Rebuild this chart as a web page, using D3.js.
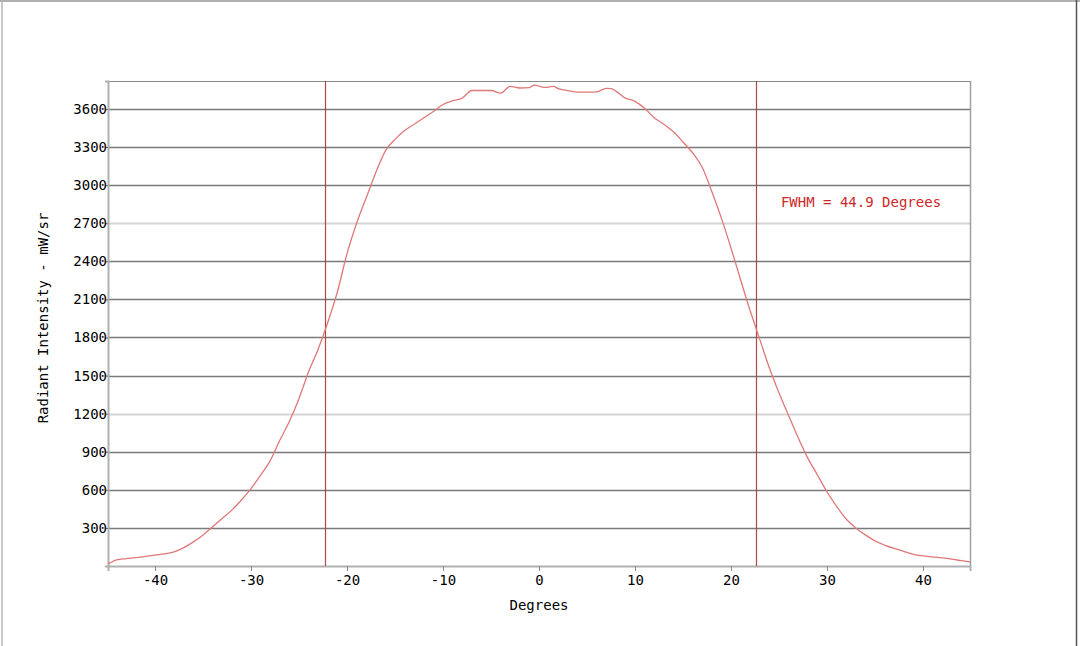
<!DOCTYPE html>
<html><head><meta charset="utf-8">
<script src="https://cdn.jsdelivr.net/npm/d3@7"></script>
<style>html,body{margin:0;padding:0;background:#fff;}svg{display:block;}</style>
</head><body>
<script>
const degrees = [-44.9,-44,-43,-42,-41,-40,-39,-38,-37,-36,-35,-34,-33,-32,-31,-30,-29,-28,-27,-26,-25,-24,-23,-22,-21,-20,-19,-18,-17,-16,-15,-14,-13,-12,-11,-10,-9,-8,-7,-6,-5,-4,-3,-2,-1,-0.5,0,0.5,1,1.5,2,3,4,5,6,7,7.5,8,9,10,11,12,13,14,15,16,17,18,19,20,21,22,23,24,25,26,27,28,29,30,31,32,33,34,35,36,37,38,39,40,41,42,43,44,44.9];
const intensity = [15,48,58,66,76,86,95,112,145,190,245,310,375,440,520,610,715,830,990,1140,1320,1530,1710,1920,2160,2460,2700,2900,3100,3270,3360,3430,3480,3530,3580,3635,3665,3685,3745,3745,3745,3725,3778,3765,3768,3788,3780,3770,3772,3778,3760,3745,3733,3733,3735,3762,3760,3740,3685,3660,3605,3530,3480,3420,3340,3255,3140,2950,2740,2505,2255,2010,1785,1560,1365,1185,1010,850,718,585,470,370,300,245,198,165,138,115,92,80,72,64,54,42,32];
const yTicks = [300,600,900,1200,1500,1800,2100,2400,2700,3000,3300,3600];
const xTicks = [-40,-30,-20,-10,0,10,20,30,40];
const fwhmLines = [-22.3, 22.6];
const fwhmLabel = "FWHM = 44.9 Degrees";
const xTitle = "Degrees";
const yTitle = "Radiant Intensity - mW/sr";

const W = 1080, H = 646;
const pL = 108, pR = 970, pT = 81, pB = 566;
const svg = d3.select("body").append("svg").attr("width", W).attr("height", H);
const font = "'DejaVu Sans Mono', monospace";

// outer frame
svg.append("line").attr("x1",2).attr("x2",2).attr("y1",0).attr("y2",H).attr("stroke","#c8c8c8").attr("stroke-width",2);
svg.append("line").attr("x1",0).attr("x2",W).attr("y1",1).attr("y2",1).attr("stroke","#b0b0b0").attr("stroke-width",2);
svg.append("line").attr("x1",1076.5).attr("x2",1076.5).attr("y1",0).attr("y2",H).attr("stroke","#555").attr("stroke-width",1.5);

const x = d3.scaleLinear().domain([-44.9, 44.9]).range([pL, pR]);
const y = d3.scaleLinear().domain([0, 3820]).range([pB, pT]);

// gridlines
svg.append("g").selectAll("line").data(yTicks).join("line")
  .attr("x1", pL).attr("x2", pR)
  .attr("y1", d => Math.round(y(d)) + 0.5).attr("y2", d => Math.round(y(d)) + 0.5)
  .attr("stroke", d => (d === 2700 || d === 1200) ? "#d4d4d4" : "#7a7a7a")
  .attr("stroke-width", d => (d === 2700 || d === 1200) ? 2 : 1.3);

// plot border top/right
svg.append("line").attr("x1",pL).attr("x2",pR).attr("y1",pT+0.5).attr("y2",pT+0.5).attr("stroke","#8a8a8a");
svg.append("line").attr("x1",pR+0.5).attr("x2",pR+0.5).attr("y1",pT).attr("y2",pB).attr("stroke","#a0a0a0").attr("stroke-width",1.5);

// axes
const yAxis = d3.axisLeft(y).tickValues(yTicks).tickSize(3).tickPadding(0).tickFormat(d3.format("d"));
const gy = svg.append("g").attr("transform", `translate(${pL},0)`).call(yAxis);
gy.select(".domain").attr("stroke","#b0b0b0").attr("stroke-width",2);
gy.selectAll(".tick line").attr("stroke","#666");
gy.selectAll(".tick text").attr("font-family", font).attr("font-size", 14).attr("fill","#000").attr("x", -1);

const xAxis = d3.axisBottom(x).tickValues(xTicks).tickSize(5).tickPadding(4).tickFormat(d => d < 0 ? "-" + Math.abs(d) : d);
const gx = svg.append("g").attr("transform", `translate(0,${pB})`).call(xAxis);
gx.select(".domain").attr("stroke","#b0b0b0").attr("stroke-width",2);
gx.selectAll(".tick line").attr("stroke","#888");
gx.selectAll(".tick text").attr("font-family", font).attr("font-size", 14).attr("fill","#000");

// FWHM lines
svg.append("g").selectAll("line").data(fwhmLines).join("line")
  .attr("x1", d => Math.round(x(d)) + 0.5).attr("x2", d => Math.round(x(d)) + 0.5)
  .attr("y1", pT).attr("y2", pB)
  .attr("stroke", "#b04848").attr("stroke-width", 1.2);

// curve
const data = degrees.map((d, i) => ({x: d, y: intensity[i]}));
svg.append("path").datum(data)
  .attr("fill","none").attr("stroke","#e07878").attr("stroke-width",1.3)
  .attr("d", d3.line().x(d => x(d.x)).y(d => y(d.y)).curve(d3.curveMonotoneX));

// FWHM label
svg.append("text").attr("x", 861).attr("y", 207).attr("text-anchor","middle")
  .attr("font-family", font).attr("font-size", 14).attr("fill","#d02828").text(fwhmLabel);

// titles
svg.append("text").attr("x", 539).attr("y", 610).attr("text-anchor","middle")
  .attr("font-family", font).attr("font-size", 14).attr("fill","#000").text(xTitle);
svg.append("text").attr("transform","translate(48,318) rotate(-90)").attr("text-anchor","middle")
  .attr("font-family", font).attr("font-size", 14).attr("fill","#000").text(yTitle);
</script>
</body></html>
